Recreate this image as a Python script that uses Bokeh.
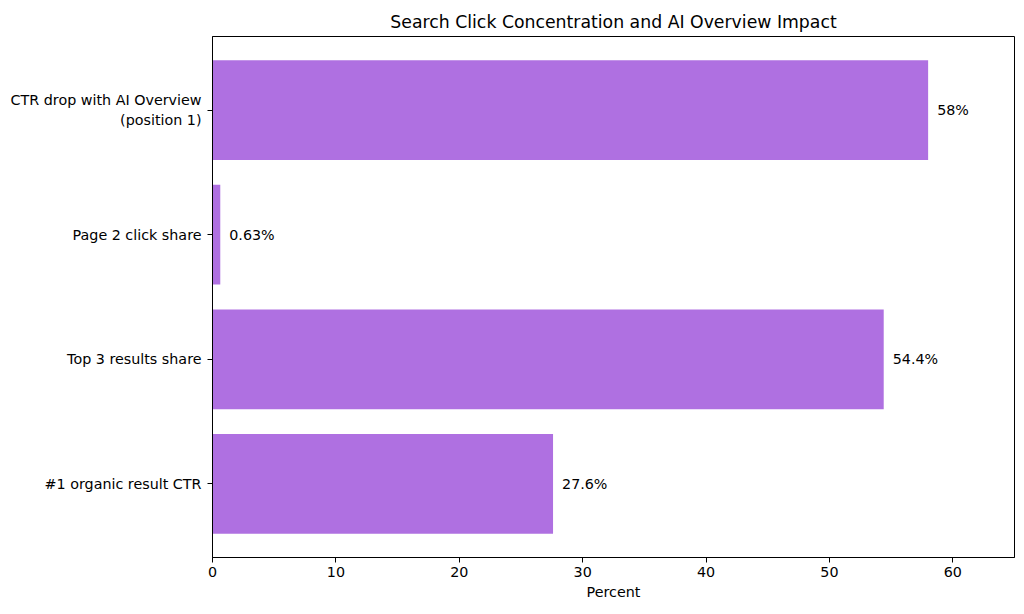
from bokeh.plotting import figure
from bokeh.models import Range1d, FixedTicker, ColumnDataSource
from bokeh.embed import file_html
from bokeh.resources import INLINE
from bokeh.core.properties import value

categories = ["#1 organic result CTR", "Top 3 results share", "Page 2 click share",
              "CTR drop with AI Overview\n(position 1)"]
values = [27.6, 54.4, 0.63, 58]
labels = ["27.6%", "54.4%", "0.63%", "58%"]
x_ticks = [0, 10, 20, 30, 40, 50, 60]

FONT = "DejaVu Sans"
BAR = "#af70e1"

pos = list(range(len(categories)))
src = ColumnDataSource(dict(y=pos, v=values, lab=labels))

p = figure(width=1016, height=606, output_backend="svg", toolbar_location=None,
           x_range=Range1d(0, 65), y_range=Range1d(-0.59, 3.59),
           title="Search Click Concentration and AI Overview Impact")
p.min_border_left = 212
p.min_border_right = 2
p.min_border_top = 36
p.min_border_bottom = 49

p.title.align = "center"
p.title.text_font = FONT
p.title.text_font_size = "17.3px"
p.title.text_font_style = "normal"
p.title.text_color = "#000000"
p.title.offset = 0

p.hbar(y="y", right="v", left=0, height=0.8, source=src, fill_color=BAR, line_color=None)
p.text(x="v", y="y", text="lab", source=src, x_offset=9, text_align="left",
       text_baseline="middle", text_font=value(FONT), text_font_size="14.3px",
       text_color="#000000")

p.xgrid.visible = False
p.ygrid.visible = False
p.outline_line_color = "#000000"
p.outline_line_width = 1
p.outline_line_alpha = 1

for ax in (p.xaxis[0], p.yaxis[0]):
    ax.axis_line_color = "#000000"
    ax.major_tick_line_color = "#000000"
    ax.major_tick_out = 5
    ax.major_tick_in = 0
    ax.minor_tick_line_color = None
    ax.major_label_text_font = FONT
    ax.major_label_text_font_size = "14.3px"
    ax.major_label_text_color = "#000000"

p.xaxis[0].ticker = FixedTicker(ticks=x_ticks)
p.xaxis[0].axis_label = "Percent"
p.xaxis[0].axis_label_text_font = FONT
p.xaxis[0].axis_label_text_font_size = "14.3px"
p.xaxis[0].axis_label_text_font_style = "normal"
p.xaxis[0].axis_label_text_color = "#000000"
p.xaxis[0].axis_label_standoff = 4
p.xaxis[0].major_label_standoff = 4

p.yaxis[0].ticker = FixedTicker(ticks=pos)
p.yaxis[0].major_label_overrides = {i: c for i, c in enumerate(categories)}
p.yaxis[0].major_label_standoff = 6

open("out.html", "w").write(file_html(p, INLINE))
